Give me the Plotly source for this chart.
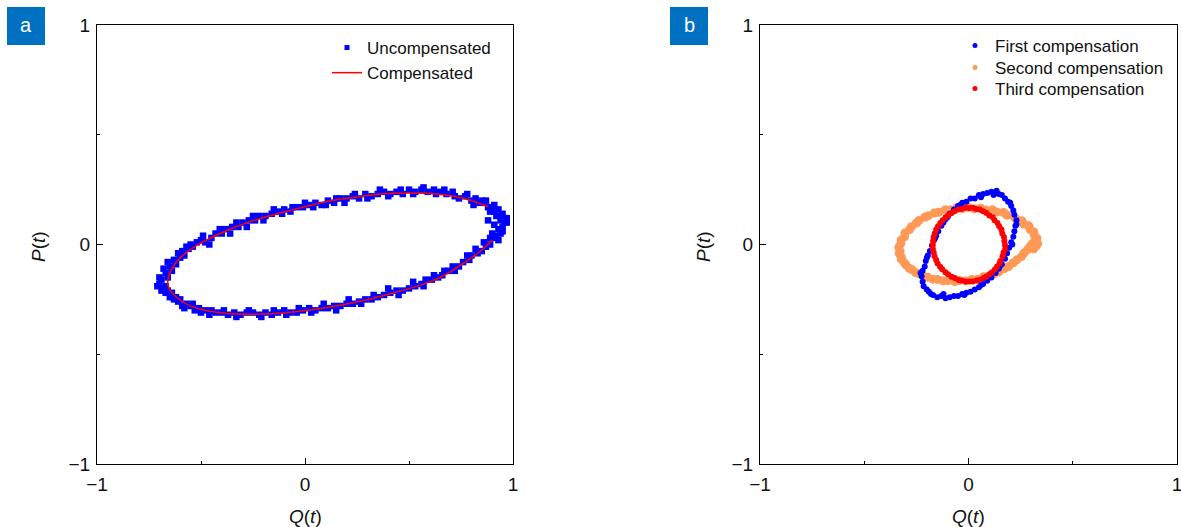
import plotly.graph_objects as go

# ---------------- Panel a data ----------------
uncomp_q = [0.91, 0.89, 0.87, 0.85, 0.83, 0.80, 0.79, 0.76, 0.74, 0.71, 0.69, 0.66, 0.64, 0.61, 0.58, 0.56,
            0.53, 0.50, 0.47, 0.44, 0.41, 0.38, 0.35, 0.32, 0.29, 0.26, 0.23, 0.20, 0.17, 0.14, 0.11, 0.08,
            0.05, 0.02, -0.01, -0.04, -0.07, -0.10, -0.13, -0.16, -0.19, -0.22, -0.25, -0.28, -0.31, -0.34,
            -0.37, -0.40, -0.43, -0.46, -0.48, -0.51, -0.53, -0.55, -0.57, -0.59, -0.60, -0.62, -0.63, -0.64,
            -0.66, -0.68, -0.70, -0.69, -0.67, -0.66,
            -0.67, -0.64, -0.65, -0.62, -0.60, -0.61, -0.58, -0.56, -0.54, -0.52, -0.50, -0.48, -0.45, -0.43,
            -0.40, -0.38, -0.35, -0.32, -0.30, -0.27, -0.24, -0.22, -0.19, -0.16, -0.13, -0.10, -0.07, -0.04,
            -0.01, 0.02, 0.05, 0.08, 0.11, 0.14, 0.17, 0.20, 0.23, 0.26, 0.29, 0.32, 0.35, 0.38, 0.41, 0.44,
            0.47, 0.50, 0.53, 0.56, 0.59, 0.62, 0.65, 0.68, 0.71, 0.74, 0.77, 0.80, 0.82, 0.84, 0.86, 0.88,
            0.87, 0.90, 0.91, 0.93, 0.92, 0.95, 0.96, 0.94, 0.97, 0.95, 0.93, 0.94, 0.92, 0.90, 0.93, 0.88,
            0.86, 0.82, 0.78, 0.72, 0.67, 0.62, 0.57, 0.52, 0.45, 0.40,
            0.33, 0.27, 0.21, 0.15, 0.09, 0.03, -0.03, -0.09, -0.15, -0.21,
            -0.27, -0.33, -0.39, -0.45, -0.50, -0.54, -0.58, -0.61, -0.65, -0.67,
            -0.71, -0.69, -0.70, -0.68, -0.63, -0.66, -0.59, -0.55, -0.57, -0.49,
            -0.46, -0.41, -0.36, -0.33, -0.28, -0.25, -0.20, -0.15, -0.11, -0.06,
            0.00, 0.04, 0.10, 0.15, 0.19, 0.24, 0.30, 0.36, 0.40, 0.46,
            0.52, 0.57, 0.63, 0.67, 0.72, 0.78, 0.81, 0.85, 0.89, 0.91,
            0.94, 0.96, 0.97, 0.95, 0.91, 0.89]
uncomp_p = [0.03, 0.00, -0.01, -0.03, -0.04, -0.05, -0.07, -0.08, -0.10, -0.10, -0.12, -0.14, -0.15, -0.16,
            -0.16, -0.18, -0.19, -0.20, -0.21, -0.21, -0.22, -0.23, -0.24, -0.25, -0.25, -0.26, -0.27, -0.27,
            -0.28, -0.28, -0.29, -0.29, -0.30, -0.29, -0.30, -0.31, -0.31, -0.30, -0.31, -0.32, -0.31, -0.32,
            -0.31, -0.31, -0.32, -0.31, -0.32, -0.31, -0.31, -0.32, -0.30, -0.29, -0.30, -0.28, -0.27, -0.28,
            -0.25, -0.24, -0.25, -0.22, -0.21, -0.20, -0.18, -0.16, -0.19, -0.15,
            -0.13, -0.12, -0.10, -0.09, -0.06, -0.04, -0.05, -0.02, -0.01, 0.01, 0.02, 0.01, 0.03, 0.05,
            0.05, 0.07, 0.08, 0.08, 0.10, 0.11, 0.11, 0.13, 0.13, 0.14, 0.15, 0.16, 0.15, 0.17,
            0.17, 0.18, 0.19, 0.18, 0.20, 0.19, 0.21, 0.21, 0.22, 0.21, 0.23, 0.22, 0.23, 0.24, 0.23, 0.24,
            0.23, 0.25, 0.24, 0.25, 0.24, 0.25, 0.24, 0.23, 0.24, 0.21, 0.22, 0.20, 0.21, 0.19, 0.19, 0.17,
            0.20, 0.17, 0.15, 0.16, 0.13, 0.14, 0.12, 0.11, 0.10, 0.08, 0.07, 0.05, 0.04, 0.05, 0.02, 0.11,
            0.01, -0.02, -0.05, -0.12, -0.12, -0.14, -0.19, -0.17, -0.23, -0.20,
            -0.23, -0.27, -0.25, -0.30, -0.27, -0.31, -0.29, -0.32, -0.30, -0.33,
            -0.30, -0.33, -0.30, -0.30, -0.31, -0.27, -0.29, -0.26, -0.24, -0.22,
            -0.19, -0.21, -0.15, -0.11, -0.07, -0.08, -0.03, 0.00, -0.01, 0.04,
            0.00, 0.07, 0.05, 0.10, 0.08, 0.13, 0.11, 0.16, 0.14, 0.17,
            0.19, 0.17, 0.18, 0.21, 0.19, 0.23, 0.21, 0.25, 0.22, 0.25,
            0.23, 0.26, 0.23, 0.25, 0.22, 0.23, 0.18, 0.20, 0.15, 0.18,
            0.13, 0.10, 0.12, 0.06, 0.09, 0.03]

comp_q = [0.90, 0.85, 0.77, 0.67, 0.58, 0.42, 0.26, 0.10, -0.05, -0.21, -0.37, -0.48, -0.56, -0.62,
          -0.65, -0.66, -0.65, -0.61, -0.53, -0.37, -0.21, -0.05, 0.10, 0.26, 0.42, 0.58, 0.70, 0.79, 0.88]
comp_p = [0.02, -0.025, -0.08, -0.14, -0.177, -0.222, -0.26, -0.288, -0.306, -0.317, -0.314, -0.30,
          -0.276, -0.238, -0.207, -0.177, -0.13, -0.07, -0.01, 0.066, 0.12, 0.16, 0.195, 0.218, 0.233,
          0.233, 0.222, 0.203, 0.172]

# ---------------- Panel b data ----------------
first_q = [0.13, 0.11, 0.09, 0.07, 0.05, 0.03, 0.01, -0.01, -0.03, -0.05, -0.07, -0.09, -0.10, -0.12,
           -0.13, -0.145, -0.155, -0.165, -0.175, -0.185, -0.195, -0.205, -0.21, -0.22, -0.225, -0.22,
           -0.215, -0.20, -0.19, -0.17, -0.15, -0.13, -0.11, -0.09, -0.07, -0.05, -0.03, -0.01, 0.01,
           0.03, 0.05, 0.07, 0.09, 0.11, 0.13, 0.145, 0.16, 0.175, 0.185, 0.195, 0.205, 0.215, 0.22,
           0.225, 0.23, 0.22, 0.215, 0.205, 0.19, 0.175, 0.16, 0.145,
           0.12, 0.06, -0.04, -0.11, -0.16, -0.20, -0.23, -0.18, -0.12, -0.02, 0.06, 0.15, 0.21, 0.23,
           0.20, 0.135]
first_p = [0.235, 0.24, 0.235, 0.23, 0.225, 0.21, 0.21, 0.195, 0.19, 0.175, 0.16, 0.14, 0.125, 0.10,
           0.085, 0.06, 0.04, 0.02, -0.005, -0.03, -0.05, -0.075, -0.10, -0.12, -0.145, -0.17, -0.19,
           -0.205, -0.215, -0.23, -0.24, -0.235, -0.245, -0.24, -0.235, -0.235, -0.225, -0.22, -0.215,
           -0.205, -0.195, -0.18, -0.165, -0.15, -0.13, -0.11, -0.09, -0.065, -0.04, -0.015, 0.01,
           0.035, 0.06, 0.085, 0.11, 0.135, 0.155, 0.175, 0.195, 0.21, 0.225, 0.23,
           0.225, 0.215, 0.18, 0.115, 0.03, -0.06, -0.13, -0.225, -0.225, -0.23, -0.185, -0.10, 0.00,
           0.09, 0.19, 0.245]

second_q = [0.332, 0.326, 0.328, 0.316, 0.313, 0.296, 0.289, 0.266, 0.256, 0.229, 0.215, 0.185, 0.168,
            0.136, 0.115, 0.083, 0.058, 0.028, 0.000, -0.029, -0.057, -0.087, -0.112, -0.143, -0.164,
            -0.193, -0.210, -0.238, -0.250, -0.274, -0.283, -0.305, -0.307, -0.323, -0.325, -0.334,
            -0.328, -0.332, -0.322, -0.322, -0.307, -0.301, -0.284, -0.272, -0.254, -0.238, -0.215,
            -0.195, -0.170, -0.148, -0.120, -0.098, -0.066, -0.044, -0.013, 0.015, 0.043, 0.072, 0.097,
            0.124, 0.146, 0.172, 0.192, 0.215, 0.232, 0.254, 0.266, 0.283, 0.295, 0.308, 0.313, 0.326]
second_p = [0.004, 0.014, 0.029, 0.042, 0.057, 0.068, 0.085, 0.093, 0.108, 0.115, 0.129, 0.133, 0.146,
            0.148, 0.158, 0.157, 0.165, 0.162, 0.169, 0.164, 0.167, 0.158, 0.158, 0.147, 0.143, 0.131,
            0.124, 0.109, 0.098, 0.081, 0.068, 0.052, 0.035, 0.020, 0.004, -0.013, -0.030, -0.041,
            -0.058, -0.067, -0.084, -0.093, -0.108, -0.114, -0.128, -0.133, -0.146, -0.149, -0.158,
            -0.159, -0.166, -0.164, -0.169, -0.164, -0.166, -0.160, -0.158, -0.147, -0.143, -0.132,
            -0.125, -0.110, -0.100, -0.083, -0.070, -0.055, -0.039, -0.024, -0.008, 0.006, -0.020, -0.005]

third_q = [0.175, 0.172, 0.170, 0.162, 0.158, 0.147, 0.139, 0.125, 0.116, 0.100, 0.086, 0.070, 0.054,
           0.036, 0.021, 0.003, -0.015, -0.033, -0.049, -0.067, -0.081, -0.097, -0.110, -0.124, -0.135,
           -0.146, -0.155, -0.162, -0.167, -0.170, -0.171, -0.171, -0.167, -0.163, -0.155, -0.148,
           -0.136, -0.126, -0.111, -0.098, -0.081, -0.066, -0.048, -0.032, -0.014, 0.004, 0.021, 0.039,
           0.055, 0.072, 0.086, 0.101, 0.113, 0.127, 0.137, 0.149, 0.153, 0.163, 0.168, 0.176]
third_p = [-0.002, 0.016, 0.034, 0.050, 0.068, 0.083, 0.098, 0.110, 0.124, 0.132, 0.144, 0.151, 0.159,
           0.162, 0.167, 0.166, 0.167, 0.162, 0.160, 0.151, 0.144, 0.133, 0.124, 0.110, 0.098, 0.083,
           0.068, 0.050, 0.034, 0.016, -0.002, -0.020, -0.037, -0.054, -0.071, -0.086, -0.101, -0.113,
           -0.126, -0.135, -0.147, -0.153, -0.162, -0.164, -0.169, -0.168, -0.168, -0.164, -0.161,
           -0.153, -0.146, -0.135, -0.126, -0.113, -0.100, -0.087, -0.075, -0.054, -0.036, -0.020]

tick_vals = [-1, 0, 1]
tick_text = ["\u22121", "0", "1"]
x_title = "<i>Q</i>(<i>t</i>)"
y_title = "<i>P</i>(<i>t</i>)"

BLUE = "#0000FF"
RED = "#FF0000"
ORANGE = "#FF9955"
FONT = "Arial, Liberation Sans, sans-serif"
TXT = "#111111"
W, H = 1181, 527

fig = go.Figure()

# Panel a
fig.add_trace(go.Scatter(x=uncomp_q, y=uncomp_p, mode="markers", name="Uncompensated",
                         marker=dict(symbol="square", size=6.5, color=BLUE, line=dict(width=0)),
                         xaxis="x", yaxis="y", showlegend=False))
fig.add_trace(go.Scatter(x=comp_q, y=comp_p, mode="lines", name="Compensated",
                         line=dict(color=RED, width=1.5, shape="spline"),
                         xaxis="x", yaxis="y", showlegend=False))
fig.add_trace(go.Scatter(x=[None], y=[None], mode="markers", name="Uncompensated",
                         marker=dict(symbol="square", size=5, color=BLUE), xaxis="x", yaxis="y",
                         legend="legend"))
fig.add_trace(go.Scatter(x=[None], y=[None], mode="lines", name="Compensated",
                         line=dict(color=RED, width=1.5), xaxis="x", yaxis="y", legend="legend"))

# Panel b
fig.add_trace(go.Scatter(x=second_q, y=second_p, mode="markers", name="Second compensation",
                         marker=dict(size=9, color=ORANGE, line=dict(width=0)),
                         xaxis="x2", yaxis="y2", showlegend=False))
fig.add_trace(go.Scatter(x=first_q, y=first_p, mode="markers", name="First compensation",
                         marker=dict(size=6, color=BLUE, line=dict(width=0)),
                         xaxis="x2", yaxis="y2", showlegend=False))
fig.add_trace(go.Scatter(x=third_q, y=third_p, mode="markers", name="Third compensation",
                         marker=dict(size=6, color=RED, line=dict(width=0)),
                         xaxis="x2", yaxis="y2", showlegend=False))
legend_b = [("First compensation", BLUE, "legend2"), ("Second compensation", ORANGE, "legend3"),
            ("Third compensation", RED, "legend4")]
for nm, col, lg in legend_b:
    fig.add_trace(go.Scatter(x=[None], y=[None], mode="markers", name=nm,
                             marker=dict(size=5, color=col), xaxis="x2", yaxis="y2", legend=lg))

ax_common = dict(range=[-1, 1], showline=True, linecolor="black", linewidth=1.2, mirror=True,
                 ticks="inside", ticklen=6, tickwidth=1, tickcolor="black", tickvals=tick_vals,
                 ticktext=tick_text, showgrid=False, zeroline=False, automargin=False,
                 ticklabeloverflow="allow",
                 minor=dict(tickvals=[-0.5, 0.5], ticks="inside", ticklen=3, tickcolor="black", showgrid=False),
                 tickfont=dict(family=FONT, size=19, color=TXT))
xa = dict(ax_common, ticklabelstandoff=3)
ya = dict(ax_common, ticklabelstandoff=2)


def leg(xpx, ypx):
    return dict(x=xpx / W, y=1 - ypx / H, xanchor="left", yanchor="top", bgcolor="rgba(0,0,0,0)",
                font=dict(family=FONT, size=17, color=TXT), tracegroupgap=0)


yd = [1 - 464 / H, 1 - 25 / H]
fig.update_layout(
    width=W, height=H, margin=dict(l=0, r=0, t=0, b=0, autoexpand=False),
    paper_bgcolor="white", plot_bgcolor="white",
    xaxis=dict(xa, domain=[97 / W, 513 / W], anchor="y"),
    yaxis=dict(ya, domain=yd, anchor="x"),
    xaxis2=dict(xa, domain=[760 / W, 1177 / W], anchor="y2"),
    yaxis2=dict(ya, domain=yd, anchor="x2"),
    legend=leg(327, 30),
    legend2=leg(955, 28),
    legend3=leg(955, 50),
    legend4=leg(955, 71),
    shapes=[
        dict(type="rect", xref="paper", yref="paper", x0=7 / W, x1=45 / W, y0=1 - 45 / H, y1=1 - 7 / H,
             fillcolor="#0070C0", line=dict(width=0)),
        dict(type="rect", xref="paper", yref="paper", x0=670 / W, x1=708 / W, y0=1 - 45 / H, y1=1 - 7 / H,
             fillcolor="#0070C0", line=dict(width=0)),
    ],
    annotations=[
        dict(text="a", xref="paper", yref="paper", x=26 / W, y=1 - 25 / H, xanchor="center", yanchor="middle",
             showarrow=False, font=dict(family=FONT, size=20, color="white")),
        dict(text="b", xref="paper", yref="paper", x=689 / W, y=1 - 25 / H, xanchor="center", yanchor="middle",
             showarrow=False, font=dict(family=FONT, size=20, color="white")),
        dict(text=x_title, xref="paper", yref="paper", x=305 / W, y=1 - 516 / H, xanchor="center",
             yanchor="middle", showarrow=False, font=dict(family=FONT, size=19, color=TXT)),
        dict(text=x_title, xref="paper", yref="paper", x=968.5 / W, y=1 - 516 / H, xanchor="center",
             yanchor="middle", showarrow=False, font=dict(family=FONT, size=19, color=TXT)),
        dict(text=y_title, xref="paper", yref="paper", x=38 / W, y=1 - 246 / H, xanchor="center",
             yanchor="middle", textangle=-90, showarrow=False, font=dict(family=FONT, size=19, color=TXT)),
        dict(text=y_title, xref="paper", yref="paper", x=703 / W, y=1 - 246 / H, xanchor="center",
             yanchor="middle", textangle=-90, showarrow=False, font=dict(family=FONT, size=19, color=TXT)),
    ],
)

fig.write_html("out.html")
